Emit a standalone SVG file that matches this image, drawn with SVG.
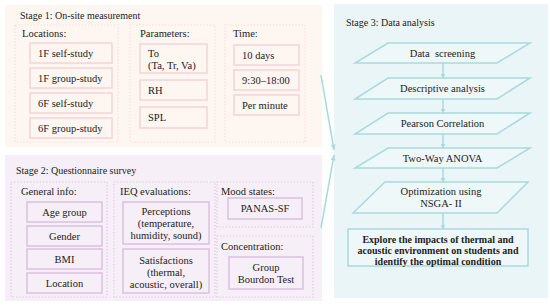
<svg xmlns="http://www.w3.org/2000/svg" width="550" height="307" viewBox="0 0 550 307" font-family="'Liberation Serif', 'Times New Roman', Times, 'DejaVu Serif', serif">
<defs>
<marker id="ah" viewBox="0 0 10 10" refX="9" refY="5" markerWidth="5" markerHeight="5" orient="auto" markerUnits="userSpaceOnUse">
<path d="M0,0 L10,5 L0,10 z" fill="#a9dade"/>
</marker>
<marker id="ahs" viewBox="0 0 10 10" refX="9" refY="5" markerWidth="6" markerHeight="6" orient="auto" markerUnits="userSpaceOnUse">
<path d="M0,1 L10,5 L0,9 z" fill="#a9dade"/>
</marker>
</defs>
<style>
text{font-family:'Liberation Serif','Times New Roman',Times,'DejaVu Serif',serif;font-size:10.5px;fill:#222;}
.c{text-anchor:middle;}
.h{font-size:10px;}
.b{font-weight:bold;font-size:10px;}
.p1{fill:#fdf6f1;}
.p2{fill:#f6eff7;}
.p3{fill:#e9f5f6;}
.d1{fill:none;stroke:#f7dada;stroke-width:1.2;stroke-dasharray:1.2 2;}
.d2{fill:none;stroke:#dcc3df;stroke-width:1.2;stroke-dasharray:1.2 2;}
.b1{fill:none;stroke:#f5d3d3;stroke-width:1.5;}
.b2{fill:none;stroke:#dcc0df;stroke-width:1.5;}
.t{fill:#eef8f9;stroke:#a9dade;stroke-width:1.5;}
.ln{fill:none;stroke:#a9dade;stroke-width:1.5;}
</style>
<rect width="550" height="307" fill="#ffffff"/>

<g id="stage1">
<rect class="p1" x="5" y="5" width="317" height="142"/>
<text class="h" x="20" y="19">Stage 1: On-site measurement</text>
</g>
<g id="locations">
<rect class="d1" x="15" y="25" width="103" height="117"/>
<text x="22" y="37">Locations:</text>
<rect class="b1" x="30" y="43" width="82" height="20"/><text x="38" y="57">1F self-study</text>
<rect class="b1" x="30" y="68" width="82" height="20"/><text x="38" y="82">1F group-study</text>
<rect class="b1" x="30" y="93" width="82" height="20"/><text x="38" y="107">6F self-study</text>
<rect class="b1" x="30" y="118" width="82" height="20"/><text x="38" y="132">6F group-study</text>
</g>
<g id="parameters">
<rect class="d1" x="130" y="25" width="85" height="117"/>
<text x="140" y="37">Parameters:</text>
<rect class="b1" x="140" y="44" width="67" height="29"/><text x="148" y="57">To</text><text x="148" y="69">(Ta, Tr, Va)</text>
<rect class="b1" x="140" y="80" width="67" height="20"/><text x="148" y="94">RH</text>
<rect class="b1" x="140" y="107" width="67" height="21"/><text x="148" y="121">SPL</text>
</g>
<g id="time">
<rect class="d1" x="225" y="25" width="80" height="117"/>
<text x="233" y="37">Time:</text>
<rect class="b1" x="234" y="45" width="65" height="20"/><text x="242" y="59">10 days</text>
<rect class="b1" x="234" y="70" width="65" height="20"/><text x="242" y="84">9:30–18:00</text>
<rect class="b1" x="234" y="95" width="65" height="20"/><text x="242" y="109">Per minute</text>
</g>

<g id="stage2">
<rect class="p2" x="5" y="155" width="317" height="146"/>
<text class="h" x="16" y="174">Stage 2: Questionnaire survey</text>
</g>
<g id="general">
<rect class="d2" x="11" y="182" width="96" height="115"/>
<text x="21" y="195">General info:</text>
<rect class="b2" x="27" y="202" width="75" height="20"/><text class="c" x="64.5" y="216">Age group</text>
<rect class="b2" x="27" y="226" width="75" height="20"/><text class="c" x="64.5" y="240">Gender</text>
<rect class="b2" x="27" y="249" width="75" height="20"/><text class="c" x="64.5" y="263">BMI</text>
<rect class="b2" x="27" y="273" width="75" height="20"/><text class="c" x="64.5" y="287">Location</text>
</g>
<g id="ieq">
<rect class="d2" x="114" y="182" width="101" height="115"/>
<text x="120" y="195">IEQ evaluations:</text>
<rect class="b2" x="123" y="202" width="86" height="42"/>
<text class="c" x="166" y="215">Perceptions</text>
<text class="c" x="166" y="227">(temperature,</text>
<text class="c" x="166" y="239">humidity, sound)</text>
<rect class="b2" x="123" y="249" width="86" height="44"/>
<text class="c" x="166" y="264">Satisfactions</text>
<text class="c" x="166" y="276">(thermal,</text>
<text class="c" x="166" y="288">acoustic, overall)</text>
</g>
<g id="mood">
<rect class="d2" x="217" y="182" width="96" height="45"/>
<text x="221" y="195">Mood states:</text>
<rect class="b2" x="228" y="198" width="74" height="21"/><text class="c" x="265" y="212">PANAS-SF</text>
</g>
<g id="concentration">
<rect class="d2" x="217" y="236" width="96" height="61"/>
<text x="221" y="250">Concentration:</text>
<rect class="b2" x="229" y="257" width="74" height="32"/>
<text class="c" x="266" y="271">Group</text>
<text class="c" x="266" y="283">Bourdon Test</text>
</g>

<g id="stage3">
<rect class="p3" x="334" y="4" width="214" height="294"/>
<text class="h" x="346" y="26">Stage 3: Data analysis</text>
</g>
<g id="screening">
<path class="t" d="M388,43 L530,43 L497,63 L355,63 Z"/>
<text class="c" x="442.5" y="57" xml:space="preserve">Data  screening</text>
</g>
<g id="descriptive">
<path class="t" d="M388,78 L530,78 L497,99 L355,99 Z"/>
<text class="c" x="442.5" y="92">Descriptive analysis</text>
</g>
<g id="pearson">
<path class="t" d="M388,113 L530,113 L497,134 L355,134 Z"/>
<text class="c" x="442.5" y="127">Pearson Correlation</text>
</g>
<g id="anova">
<path class="t" d="M388,148 L530,148 L497,168 L355,168 Z"/>
<text class="c" x="442.5" y="162">Two-Way ANOVA</text>
</g>
<g id="optimization">
<path class="t" d="M385,182 L528,182 L497,213 L353,213 Z"/>
<text class="c" x="441" y="195">Optimization using</text>
<text class="c" x="441" y="207">NSGA- II</text>
</g>
<g id="explore">
<rect class="t" x="348" y="229" width="180" height="37"/>
<text class="c b" x="438" y="243">Explore the impacts of thermal and</text>
<text class="c b" x="438" y="254">acoustic environment on students and</text>
<text class="c b" x="438" y="265">identify the optimal condition</text>
</g>

<g id="connectors">
<line class="ln" x1="443" y1="63" x2="443" y2="78" marker-end="url(#ah)"/>
<line class="ln" x1="443" y1="99" x2="443" y2="113" marker-end="url(#ah)"/>
<line class="ln" x1="443" y1="134" x2="443" y2="148" marker-end="url(#ah)"/>
<line class="ln" x1="443" y1="168" x2="443" y2="182" marker-end="url(#ah)"/>
<line class="ln" x1="443" y1="213" x2="443" y2="229" marker-end="url(#ah)"/>
<line class="ln" x1="321" y1="75" x2="334" y2="150" marker-end="url(#ahs)"/>
<line class="ln" x1="321" y1="228" x2="334" y2="155" marker-end="url(#ahs)"/>
</g>
</svg>
